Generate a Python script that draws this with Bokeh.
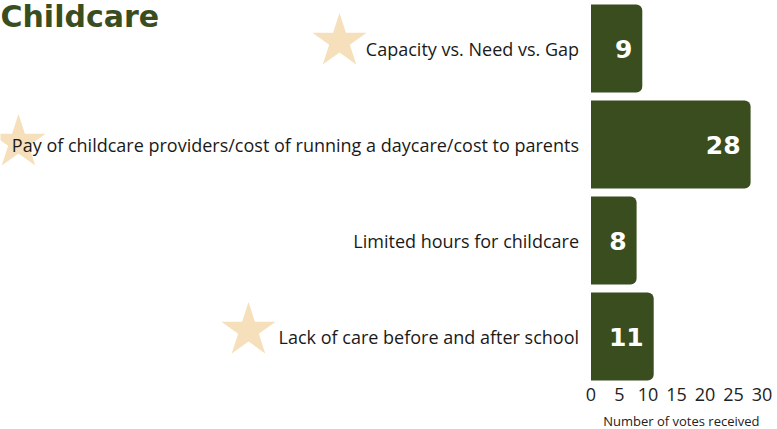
from bokeh.plotting import figure
from bokeh.models import Range1d, ColumnDataSource, FixedTicker, Label, Title
from bokeh.core.properties import value
from bokeh.embed import file_html
from bokeh.resources import INLINE

# ---- data ----
categories = [
    "Capacity vs. Need vs. Gap",
    "Pay of childcare providers/cost of running a daycare/cost to parents",
    "Limited hours for childcare",
    "Lack of care before and after school",
]
votes = [9, 28, 8, 11]
tick_values = [0, 5, 10, 15, 20, 25, 30]
title_text = "Childcare"
axis_title = "Number of votes received"

# ---- layout helpers (pixel geometry of the reference) ----
X0 = 590.5      # pixel of value 0
PPU = 5.7       # pixels per vote
ROW = 96.0      # pixels per category row
FW, FH = 762, 384
RIGHT = 15

def px2x(px):
    return (px - X0) / PPU

def py2y(py):
    return py / ROW - 0.5

GREEN = "#394d1f"
STAR = "#f6dfbb"

p = figure(frame_width=FW, frame_height=FH, output_backend="svg", toolbar_location=None,
           x_range=Range1d(px2x(0), px2x(FW)), y_range=Range1d(len(categories) - 0.5, -0.5),
           min_border=0, min_border_left=0, min_border_right=RIGHT, min_border_top=0,
           outline_line_color=None, background_fill_color="white", border_fill_color="white")

p.xgrid.visible = False
p.ygrid.visible = False
p.yaxis.visible = False

xa = p.xaxis[0]
xa.ticker = FixedTicker(ticks=tick_values)
xa.axis_line_color = None
xa.major_tick_line_color = None
xa.minor_tick_line_color = None
xa.major_tick_out = 0
xa.major_label_standoff = 3
xa.major_label_text_font = "Open Sans"
xa.major_label_text_font_size = "18px"
xa.major_label_text_color = "#222222"

# axis title, right-aligned under the 0..30 scale
p.add_layout(Title(text=axis_title, align="right", offset=3, standoff=12,
                   text_font="Open Sans", text_font_size="13px", text_font_style="normal",
                   text_color="#222222"), "below")

# stars (decoration)
star_px = [(339, 41), (18, 142), (248, 330)]
p.scatter(x=[px2x(a) for a, b in star_px], y=[py2y(b) for a, b in star_px],
          marker="star", size=57, fill_color=STAR, line_color=None)

idx = list(range(len(categories)))
src = ColumnDataSource(dict(y=idx, v=votes, cat=categories, lab=[str(v) for v in votes],
                            zero=[0] * len(votes)))

p.hbar(y="y", left="zero", right="v", height=88 / ROW, source=src,
       fill_color=GREEN, line_color=None, border_radius=(0, 6, 6, 0))

p.text(x="v", y="y", text="lab", source=src, x_offset=-10, text_align="right",
       text_baseline="middle", text_color="white", text_font=value("DejaVu Sans"),
       text_font_style="bold", text_font_size="25px")

p.text(x=px2x(X0 - 12), y="y", text="cat", source=src, text_align="right",
       text_baseline="middle", text_color="#1a1a1a", text_font=value("Open Sans"),
       text_font_size="18px")

p.add_layout(Label(x=px2x(0), y=py2y(16), text=title_text, text_font="DejaVu Sans",
                   text_font_style="bold", text_font_size="30px", text_color=GREEN,
                   text_baseline="alphabetic"))

open("out.html", "w").write(file_html(p, INLINE))
